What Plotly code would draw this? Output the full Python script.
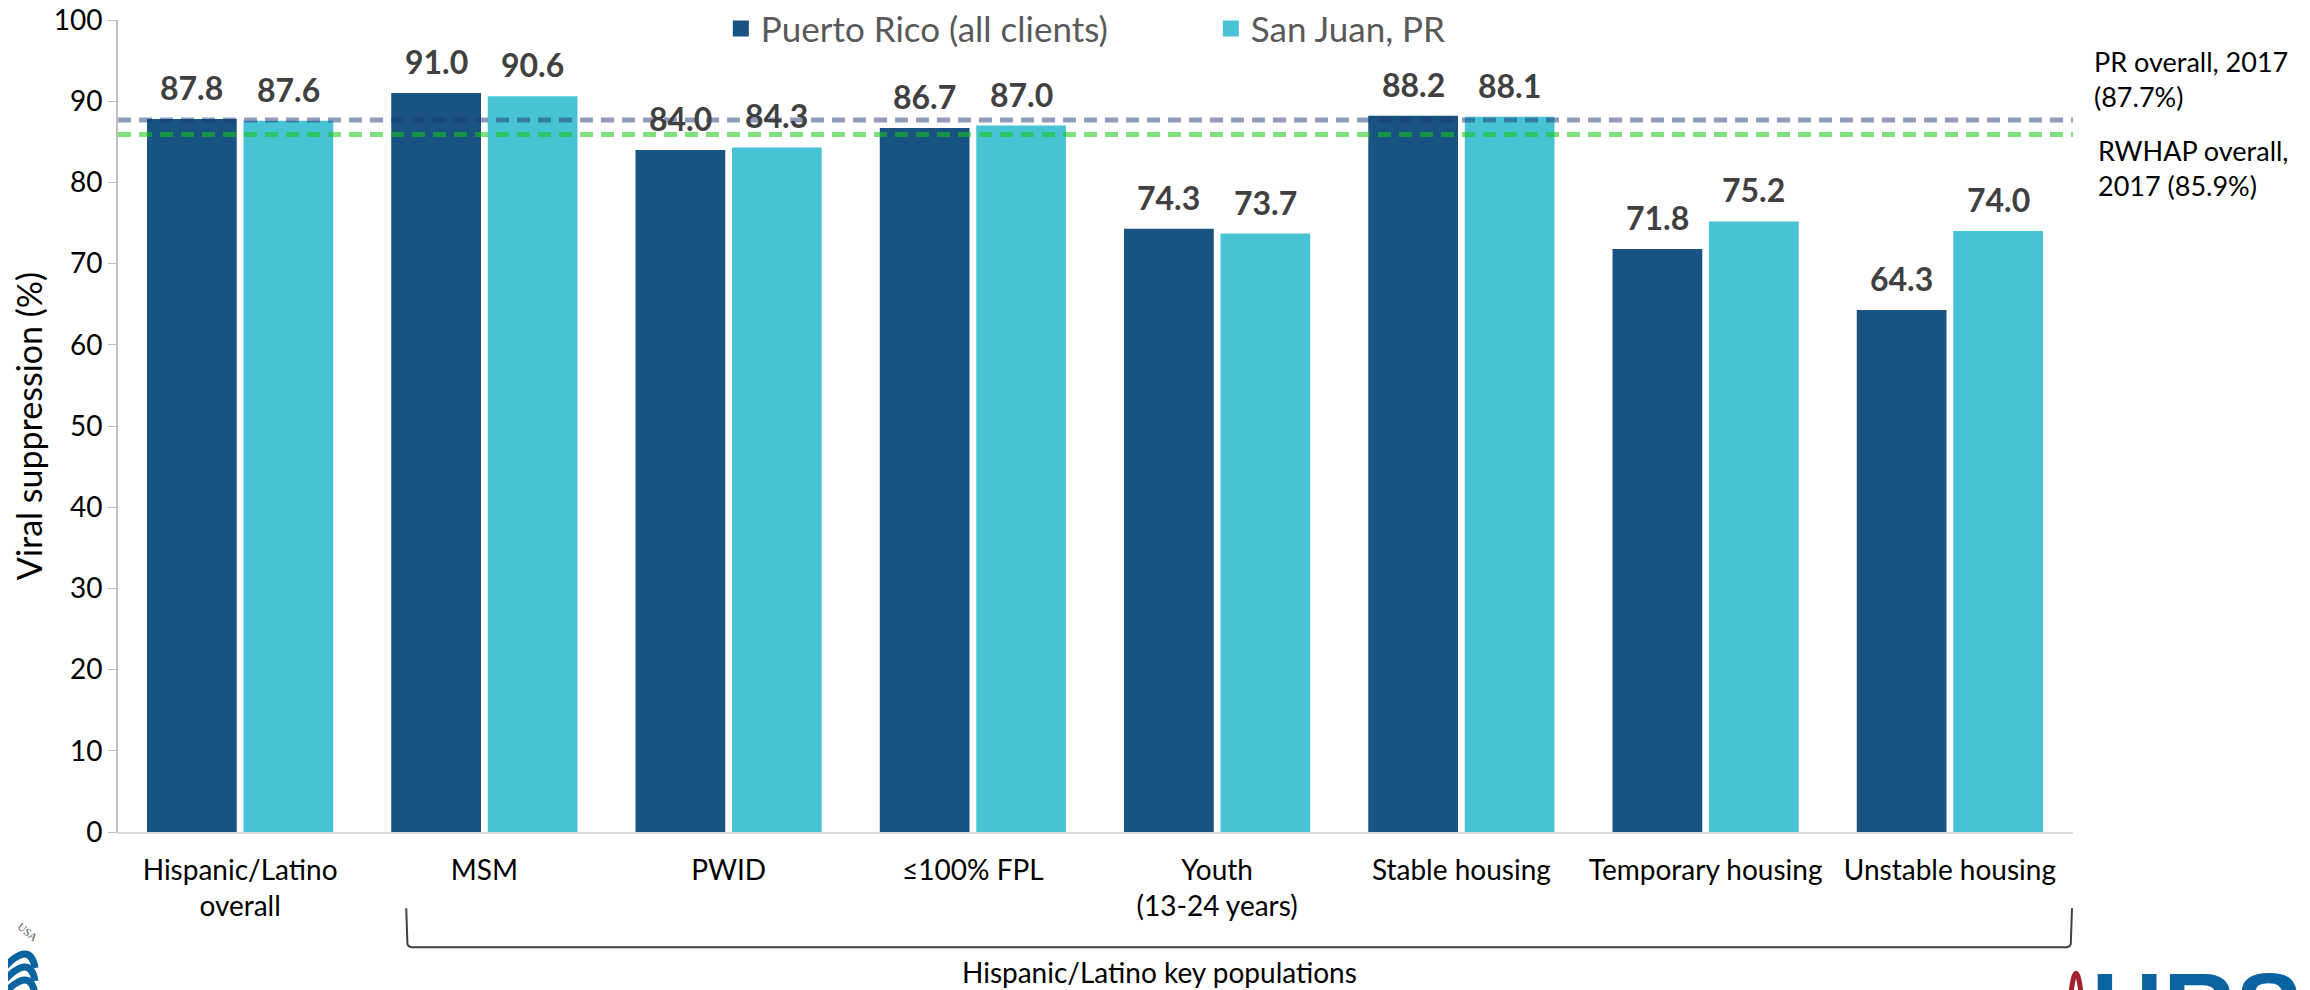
import plotly.graph_objects as go

CATEGORIES = [
    "Hispanic/Latino<br>overall",
    "MSM",
    "PWID",
    "≤100% FPL",
    "Youth<br>(13-24 years)",
    "Stable housing",
    "Temporary housing",
    "Unstable housing",
]
PR_ALL = [87.8, 91.0, 84.0, 86.7, 74.3, 88.2, 71.8, 64.3]
SAN_JUAN = [87.6, 90.6, 84.3, 87.0, 73.7, 88.1, 75.2, 74.0]
SERIES_NAMES = ["Puerto Rico (all clients)", "San Juan, PR"]
PR_OVERALL = 87.7
RWHAP_OVERALL = 85.9

DARK = "#185381"
CYAN = "#48c3d3"
LOGO_BLUE = "#0b64a0"
FONT = "Lato"
BARGAP = 0.21
L, R, T, B = 110, 245, 12, 166
W, H = 2310, 990
PW, PH = W - L - R, H - T - B
PAGE_OFFSET = 8  # default body margin of the html page


def paper(xp, yp):
    # pixel position on the page -> paper coordinates
    xp, yp = xp - PAGE_OFFSET, yp - PAGE_OFFSET
    return (xp - L) / PW, (H - B - yp) / PH


fig = go.Figure()
for name, vals, col in zip(SERIES_NAMES, [PR_ALL, SAN_JUAN], [DARK, CYAN]):
    fig.add_trace(go.Bar(x=CATEGORIES, y=vals, name=name, marker_color=col,
                         marker_line_width=0, showlegend=False, legendgroup=name))
    # legend entry with a bigger square swatch
    fig.add_trace(go.Scatter(x=[CATEGORIES[0]], y=[None], mode="markers", name=name,
                             legendgroup=name,
                             marker=dict(symbol="square", size=19, color=col)))

# reference lines across the plot
for val, col in [(PR_OVERALL, "rgba(30,55,120,0.5)"), (RWHAP_OVERALL, "rgba(20,200,20,0.55)")]:
    fig.add_shape(type="line", xref="paper", yref="y", x0=0, x1=1, y0=val, y1=val,
                  line=dict(color=col, width=5, dash="13px,8px"), layer="above")

# value labels above each bar
off = (1 - BARGAP) / 4
for i in range(len(CATEGORIES)):
    for j, vals in enumerate([PR_ALL, SAN_JUAN]):
        fig.add_annotation(x=i + (off if j else -off), y=vals[i], xref="x", yref="y",
                           text=f"<b>{vals[i]:.1f}</b>", showarrow=False,
                           yanchor="bottom", yshift=10,
                           font=dict(family=FONT, size=32, color="#404040"))

fig.add_annotation(x=1.0097, y=0.927, xref="paper", yref="paper", xanchor="left",
                   yanchor="middle", align="left", text="PR overall, 2017<br>(87.7%)",
                   showarrow=False, font=dict(family=FONT, size=27, color="#000"))
fig.add_annotation(x=1.0117, y=0.818, xref="paper", yref="paper", xanchor="left",
                   yanchor="middle", align="left", text="RWHAP overall,<br>2017 (85.9%)",
                   showarrow=False, font=dict(family=FONT, size=27, color="#000"))

# bracket for key populations
fig.add_shape(type="path", xref="x", yref="paper",
              path="M 0.68,-0.094 L 0.685,-0.138 Q 0.69,-0.142 0.71,-0.142 "
                   "L 7.47,-0.142 Q 7.49,-0.142 7.495,-0.138 L 7.5,-0.094",
              line=dict(color="#404040", width=2))
fig.add_annotation(x=0.5325, y=-0.1724, xref="paper", yref="paper", yanchor="middle",
                   text="Hispanic/Latino key populations", showarrow=False,
                   font=dict(family=FONT, size=28, color="#000"))

# logo fragments in the bottom corners
fig.add_annotation(x=1.008, y=-0.145, xref="paper", yref="paper", xanchor="left",
                   yanchor="top", text="<b>HRSA</b>", showarrow=False,
                   font=dict(family="Liberation Sans", size=100, color=LOGO_BLUE))
(rx0, ry0), (rx1, ry1), (rx2, ry2) = paper(2071, 993), paper(2076, 978), paper(2081, 993)
fig.add_shape(type="path", xref="paper", yref="paper", line=dict(color="#a3212b", width=5),
              path=f"M {rx0},{ry0} Q {rx1},{ry1 + 0.03} {rx2},{ry2}")
for k in range(3):
    (ax, ay), (cx, cy), (ex, ey) = (paper(0, 972 + 13 * k), paper(30, 938 + 13 * k),
                                    paper(35, 968 + 13 * k))
    fig.add_shape(type="path", xref="paper", yref="paper",
                  line=dict(color=LOGO_BLUE, width=7),
                  path=f"M {ax},{ay} Q {cx},{cy} {ex},{ey}")
ux, uy = paper(13, 946)
fig.add_annotation(x=ux, y=uy, xref="paper", yref="paper", text="USA", textangle=40,
                   showarrow=False, font=dict(family="Liberation Serif", size=11, color="#555"))

fig.update_layout(
    width=W, height=H,
    margin=dict(l=L, r=R, t=T, b=B, autoexpand=False),
    barmode="group", bargap=BARGAP, bargroupgap=0.07,
    plot_bgcolor="white", paper_bgcolor="white",
    font=dict(family=FONT, color="#000"),
    legend=dict(orientation="h", x=0.559, xanchor="center", y=0.979, yanchor="middle",
                yref="container",
                font=dict(family=FONT, size=35, color="#595959"),
                entrywidth=445, bgcolor="rgba(0,0,0,0)"),
    xaxis=dict(showline=True, linecolor="#d9d9d9", linewidth=2, ticks="",
               ticklabelstandoff=12, tickfont=dict(size=28, color="#000")),
    yaxis=dict(range=[0, 100], dtick=10, showgrid=False, showline=True,
               linecolor="#bfbfbf", linewidth=2, ticks="outside", ticklen=8,
               tickcolor="#bfbfbf", tickfont=dict(size=28, color="#000"),
               ticklabeloverflow="allow",
               title=dict(text="Viral suppression (%)", font=dict(size=34), standoff=10)),
)

fig.write_html("out.html")
